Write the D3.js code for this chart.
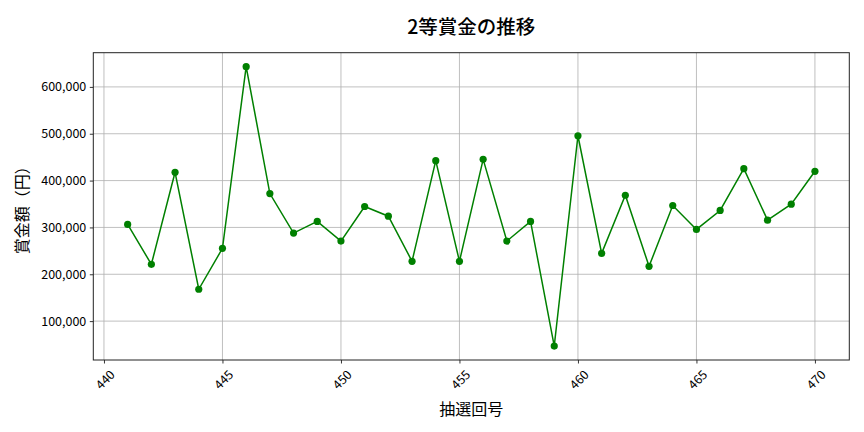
<!DOCTYPE html>
<html><head><meta charset="utf-8">
<script src="https://cdn.jsdelivr.net/npm/d3@7"></script>
<style>body{margin:0;background:#fff}svg{display:block}text{font-family:"Noto Sans CJK JP","Noto Sans",sans-serif}</style>
</head><body><svg id="c" width="864" height="432"></svg>
<script>
const draws = [441,442,443,444,445,446,447,448,449,450,451,452,453,454,455,456,457,458,459,460,461,462,463,464,465,466,467,468,469,470];
const prizes = [306400,221300,417700,168000,255300,643200,372300,287900,312800,270900,344700,324000,227700,442600,227700,445300,270900,312800,46800,495700,244700,368700,217000,346800,295700,336200,425500,315500,349600,419800];
const xTicks = [440,445,450,455,460,465,470];
const yTicks = [100000,200000,300000,400000,500000,600000];
const title = "2等賞金の推移", xLabel = "抽選回号", yLabel = "賞金額（円）";

const svg = d3.select("#c");
const L=93.3, R=849.3, T=52.7, B=360;
const xr = d3.extent(draws), xp=(xr[1]-xr[0])*0.05;
const yr = d3.extent(prizes), yp=(yr[1]-yr[0])*0.05;
const x = d3.scaleLinear().domain([xr[0]-xp, xr[1]+xp]).range([L,R]);
const y = d3.scaleLinear().domain([yr[0]-yp, yr[1]+yp]).range([B,T]);

// grid
svg.append("g").selectAll("line").data(xTicks).join("line")
  .attr("x1",d=>x(d)).attr("x2",d=>x(d)).attr("y1",T).attr("y2",B)
  .attr("stroke","#b0b0b0").attr("stroke-width",0.8);
svg.append("g").selectAll("line").data(yTicks).join("line")
  .attr("y1",d=>y(d)).attr("y2",d=>y(d)).attr("x1",L).attr("x2",R)
  .attr("stroke","#b0b0b0").attr("stroke-width",0.8);

// axes
const fmt = d3.format(",");
const gx = svg.append("g").attr("transform",`translate(0,${B})`)
  .call(d3.axisBottom(x).tickValues(xTicks).tickSize(3.5).tickPadding(3.5).tickFormat(d3.format("d")));
gx.select(".domain").remove();
gx.selectAll("line").attr("stroke","#000").attr("stroke-width",0.8);
gx.selectAll("text").attr("font-size",12.5).attr("fill","#000")
  .attr("text-anchor","middle").attr("dy",null).attr("dominant-baseline","central")
  .attr("y",0).attr("transform","translate(0,19) rotate(-45)");

const gy = svg.append("g").attr("transform",`translate(${L},0)`)
  .call(d3.axisLeft(y).tickValues(yTicks).tickSize(3.5).tickPadding(3.5).tickFormat(fmt));
gy.select(".domain").remove();
gy.selectAll("line").attr("stroke","#000").attr("stroke-width",0.8);
gy.selectAll("text").attr("font-size",12.5).attr("fill","#000");

// frame
svg.append("rect").attr("x",L).attr("y",T).attr("width",R-L).attr("height",B-T)
  .attr("fill","none").attr("stroke","#222").attr("stroke-width",1);

// line
const pts = draws.map((d,i)=>[d,prizes[i]]);
svg.append("path").datum(pts)
  .attr("d",d3.line().x(d=>x(d[0])).y(d=>y(d[1])))
  .attr("fill","none").attr("stroke","#008000").attr("stroke-width",1.5);
svg.append("g").selectAll("circle").data(pts).join("circle")
  .attr("cx",d=>x(d[0])).attr("cy",d=>y(d[1])).attr("r",3.6).attr("fill","#008000");

// labels
svg.append("text").attr("x",(L+R)/2).attr("y",25).attr("text-anchor","middle")
  .attr("dominant-baseline","central").attr("font-size",19.5).attr("font-weight",500).text(title);
svg.append("text").attr("x",(L+R)/2).attr("y",408).attr("text-anchor","middle")
  .attr("dominant-baseline","central").attr("font-size",16).text(xLabel);
svg.append("text").attr("transform",`translate(21,${(T+B)/2}) rotate(-90)`).attr("text-anchor","middle")
  .attr("dominant-baseline","central").attr("font-size",16).text(yLabel);
</script></body></html>
